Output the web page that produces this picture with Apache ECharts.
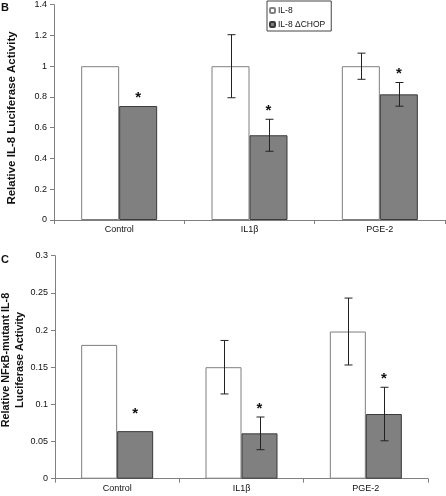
<!DOCTYPE html>
<html>
<head>
<meta charset="utf-8">
<script src="https://cdn.jsdelivr.net/npm/echarts@6/dist/echarts.min.js"></script>
<style>
html,body{margin:0;padding:0;background:#fff;}
#chart{width:446px;height:496px;}
</style>
</head>
<body>
<div id="chart"></div>
<script>
const categories = ['Control', 'IL1β', 'PGE-2'];
const seriesNames = ['IL-8', 'IL-8 ΔCHOP'];
// Panel B
const bIL8 = [1, 1, 1];
const bIL8Err = [0, 0.205, 0.085];
const bDelta = [0.741, 0.551, 0.817];
const bDeltaErr = [0, 0.104, 0.077];
const bStarAt = [0.741, 0.655, 0.894];   // value just under each "*"
const bYTitle = 'Relative IL-8 Luciferase Activity';
// Panel C
const cIL8 = [0.18, 0.15, 0.198];
const cIL8Err = [0, 0.036, 0.045];
const cDelta = [0.064, 0.061, 0.087];
const cDeltaErr = [0, 0.022, 0.036];
const cStarAt = [0.076, 0.083, 0.123];
const cYTitle = ['Relative NFκB-mutant IL-8', 'Luciferase Activity'];

const FONT = 'Liberation Sans, Arial, sans-serif';
const AXIS_COLOR = '#808080';

function errSeries(vals, errs, gridIdx, side, bw) {
  return {
    type: 'custom', xAxisIndex: gridIdx, yAxisIndex: gridIdx, silent: true, z: 5,
    data: vals.map((v, i) => [i, v, errs[i]]),
    renderItem: function (params, api) {
      const e = api.value(2);
      if (!e) return null;
      const i = api.value(0), v = api.value(1);
      const top = api.coord([i, v + e]);
      const bot = api.coord([i, v - e]);
      const x = Math.round(top[0] + side * bw / 2) + 0.5;
      const cap = 4;
      const st = {stroke: '#222', lineWidth: 1};
      return {type: 'group', children: [
        {type: 'line', shape: {x1: x, y1: top[1], x2: x, y2: bot[1]}, style: st},
        {type: 'line', shape: {x1: x - cap, y1: top[1], x2: x + cap, y2: top[1]}, style: st},
        {type: 'line', shape: {x1: x - cap, y1: bot[1], x2: x + cap, y2: bot[1]}, style: st}
      ]};
    }
  };
}

function starSeries(starAt, gridIdx, bw) {
  return {
    type: 'custom', xAxisIndex: gridIdx, yAxisIndex: gridIdx, silent: true, z: 6,
    data: starAt.map((v, i) => [i, v]),
    renderItem: function (params, api) {
      const p = api.coord([api.value(0), api.value(1)]);
      return {type: 'text', style: {
        text: '*', x: p[0] + bw / 2, y: p[1] - 1,
        align: 'center', verticalAlign: 'bottom',
        font: 'bold 15px ' + FONT, fill: '#111'
      }};
    }
  };
}

function barSeries(name, vals, gridIdx, fill, border, bw) {
  return {
    name: name, type: 'bar', xAxisIndex: gridIdx, yAxisIndex: gridIdx,
    data: vals, barWidth: bw, barGap: '0%',
    itemStyle: {color: fill, borderColor: border, borderWidth: 1},
    emphasis: {disabled: true}
  };
}

function xAxis(gridIdx) {
  return {
    type: 'category', gridIndex: gridIdx, data: categories,
    axisLine: {lineStyle: {color: AXIS_COLOR, width: 1}},
    axisTick: {show: true, length: 4, lineStyle: {color: AXIS_COLOR}},
    axisLabel: {fontFamily: FONT, fontSize: 9, color: '#111', margin: 5}
  };
}

function yAxis(gridIdx, max, interval) {
  return {
    type: 'value', gridIndex: gridIdx, min: 0, max: max, interval: interval,
    axisLine: {show: true, lineStyle: {color: AXIS_COLOR, width: 1}},
    axisTick: {show: true, length: 4, lineStyle: {color: AXIS_COLOR}},
    axisLabel: {fontFamily: FONT, fontSize: 9, color: '#111', margin: 7},
    splitLine: {show: false}
  };
}

function vText(text, x, y, size) {
  return {type: 'text', x: x, y: y, rotation: Math.PI / 2,
    style: {text: text, align: 'center', verticalAlign: 'middle',
      font: 'bold ' + size + 'px ' + FONT, fill: '#111'}};
}

const BW_B = 38, BW_C = 36;
const WHITE = '#ffffff', WHITE_BORDER = '#7f7f7f', GRAY = '#808080', GRAY_BORDER = '#3a3a3a';

const chart = echarts.init(document.getElementById('chart'), null, {renderer: 'canvas'});
chart.setOption({
  animation: false,
  backgroundColor: '#fff',
  textStyle: {fontFamily: FONT},
  legend: {
    data: seriesNames, orient: 'vertical', left: 267, top: 1,
    itemWidth: 5, itemHeight: 5, itemGap: 5,
    padding: [5, 6, 2, 2],
    borderColor: '#444', borderWidth: 1,
    textStyle: {fontFamily: FONT, fontSize: 8.5, color: '#111', padding: [0, 0, 0, -2]},
    selectedMode: false
  },
  grid: [
    {left: 54, right: 1, top: 4.7, height: 215.3, outerBoundsMode: 'none'},
    {left: 55, right: 18, top: 255.7, height: 223, outerBoundsMode: 'none'}
  ],
  xAxis: [xAxis(0), xAxis(1)],
  yAxis: [yAxis(0, 1.4, 0.2), yAxis(1, 0.3, 0.05)],
  graphic: [
    {type: 'text', left: 1, top: 2, style: {text: 'B', font: 'bold 11px ' + FONT, fill: '#111'}},
    {type: 'text', left: 1, top: 254, style: {text: 'C', font: 'bold 11px ' + FONT, fill: '#111'}},
    vText(bYTitle, 11.5, 118, 11.5),
    vText(cYTitle[0], 6.5, 360, 10.8),
    vText(cYTitle[1], 20, 360, 10.8)
  ],
  series: [
    barSeries(seriesNames[0], bIL8, 0, WHITE, WHITE_BORDER, BW_B),
    barSeries(seriesNames[1], bDelta, 0, GRAY, GRAY_BORDER, BW_B),
    barSeries(seriesNames[0], cIL8, 1, WHITE, WHITE_BORDER, BW_C),
    barSeries(seriesNames[1], cDelta, 1, GRAY, GRAY_BORDER, BW_C),
    errSeries(bIL8, bIL8Err, 0, -1, BW_B),
    errSeries(bDelta, bDeltaErr, 0, 1, BW_B),
    errSeries(cIL8, cIL8Err, 1, -1, BW_C),
    errSeries(cDelta, cDeltaErr, 1, 1, BW_C),
    starSeries(bStarAt, 0, BW_B),
    starSeries(cStarAt, 1, BW_C)
  ]
});
</script>
</body>
</html>
